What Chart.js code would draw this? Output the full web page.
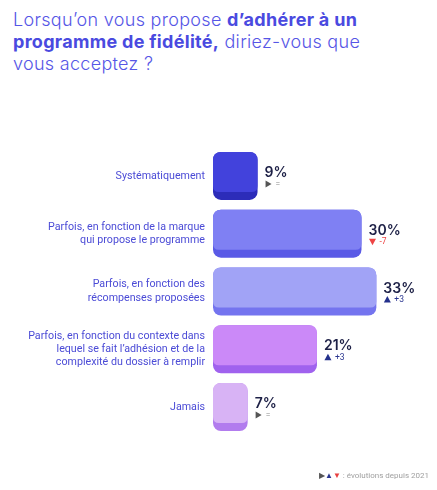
<!DOCTYPE html>
<html>
<head>
<meta charset="utf-8">
<script src="https://cdn.jsdelivr.net/npm/chart.js@4"></script>
<style>
  html, body { margin: 0; padding: 0; background: #fff; }
  #wrap { position: relative; width: 437px; height: 490px; }
  #title {
    position: absolute; left: 13px; top: 9px; margin: 0; width: 424px; white-space: nowrap;
    font-family: Inter, sans-serif; font-weight: 300; font-size: 18px;
    line-height: 22px; color: #5656e6; letter-spacing: 0.3px;
  }
  #title b { font-weight: 700; color: #4a4ae0; }
  #note {
    position: absolute; right: 8px; top: 471px;
    font-family: Roboto, sans-serif; font-size: 8px; color: #a0a0a0;
  }
  #note .f { color: #555; } #note .u { color: #2a3590; } #note .d { color: #e84040; }
  canvas { position: absolute; left: 0; top: 0; }
</style>
</head>
<body>
<div id="wrap">
  <h1 id="title">Lorsqu’on vous propose <b>d’adhérer à un</b><br><b>programme de fidélité,</b> diriez-vous que<br>vous acceptez ?</h1>
  <canvas id="myChart" width="437" height="490"></canvas>
  <div id="note"><span class="f">▶</span><span class="u">▲</span><span class="d">▼</span> : évolutions depuis 2021</div>
</div>
<script>
const categories = [
  ['Systématiquement'],
  ['Parfois, en fonction de la marque', 'qui propose le programme'],
  ['Parfois, en fonction des', 'récompenses proposées'],
  ['Parfois, en fonction du contexte dans', 'lequel se fait l’adhésion et de la', 'complexité du dossier à remplir'],
  ['Jamais']
]
const values = [9, 30, 33, 21, 7]
const changes = ['=', '-7', '+3', '+3', '=']
const trends = ['flat', 'down', 'up', 'up', 'flat']

const topColors = ['#4242dc', '#7f80f3', '#a1a3f6', '#cb89f8', '#d8b3f5']
const baseColors = ['#2c2cb9', '#5a5ae6', '#7474ef', '#a062ee', '#b27cee']
const trendColors = { flat: '#555555', down: '#ee4444', up: '#24318c' }
const changeColors = { flat: '#8a8a8a', down: '#ee4444', up: '#2a3590' }

function roundRect (ctx, x, y, w, h, rt, rb) {
  ctx.beginPath()
  ctx.moveTo(x + rt, y)
  ctx.lineTo(x + w - rt, y)
  ctx.quadraticCurveTo(x + w, y, x + w, y + rt)
  ctx.lineTo(x + w, y + h - rb)
  ctx.quadraticCurveTo(x + w, y + h, x + w - rb, y + h)
  ctx.lineTo(x + rb, y + h)
  ctx.quadraticCurveTo(x, y + h, x, y + h - rb)
  ctx.lineTo(x, y + rt)
  ctx.quadraticCurveTo(x, y, x + rt, y)
  ctx.closePath()
}

const barFacePlugin = {
  id: 'barFace',
  afterDatasetsDraw (chart) {
    const ctx = chart.ctx
    const meta = chart.getDatasetMeta(0)
    meta.data.forEach(function (bar, i) {
      const left = bar.base
      const right = bar.x
      const top = bar.y - bar.height / 2
      const h = bar.height - 8
      ctx.save()
      ctx.fillStyle = topColors[i]
      roundRect(ctx, left, top, right - left, h, 8, 6)
      ctx.fill()

      // value label
      const tx = right + 7
      ctx.fillStyle = '#1d2046'
      ctx.font = '600 14px Inter'
      ctx.textBaseline = 'alphabetic'
      ctx.textAlign = 'left'
      ctx.fillText(values[i] + '%', tx, bar.y + 1)

      // trend marker
      const cy = bar.y + 8
      const t = trends[i]
      ctx.fillStyle = trendColors[t]
      ctx.beginPath()
      if (t === 'flat') {
        ctx.moveTo(tx + 1, cy - 3.5); ctx.lineTo(tx + 7, cy); ctx.lineTo(tx + 1, cy + 3.5)
      } else if (t === 'up') {
        ctx.moveTo(tx + 0.5, cy + 3); ctx.lineTo(tx + 4, cy - 3.5); ctx.lineTo(tx + 7.5, cy + 3)
      } else {
        ctx.moveTo(tx + 0.5, cy - 3); ctx.lineTo(tx + 4, cy + 3.5); ctx.lineTo(tx + 7.5, cy - 3)
      }
      ctx.closePath()
      ctx.fill()
      ctx.fillStyle = changeColors[t]
      ctx.font = '8.5px Roboto'
      ctx.textBaseline = 'middle'
      ctx.fillText(changes[i], tx + 11, cy + 0.5)
      ctx.restore()
    })
  }
}

const ctx = document.getElementById('myChart').getContext('2d')
// eslint-disable-next-line no-unused-vars
const myChart = new Chart(ctx, {
  type: 'bar',
  data: {
    labels: categories,
    datasets: [{
      data: values,
      backgroundColor: baseColors,
      borderRadius: 8,
      borderSkipped: false,
      barPercentage: 1,
      categoryPercentage: 0.83
    }]
  },
  options: {
    indexAxis: 'y',
    responsive: false,
    animation: false,
    devicePixelRatio: 1,
    layout: { padding: { left: 0, right: 26, top: 147, bottom: 54 } },
    plugins: {
      legend: { display: false },
      tooltip: { enabled: false }
    },
    scales: {
      x: {
        display: false,
        min: 0,
        max: 40
      },
      y: {
        grid: { display: false, drawTicks: false },
        border: { display: false },
        afterFit: function (scale) { scale.width = 213 },
        ticks: {
          padding: 8,
          color: '#4b4bd6',
          font: { family: 'Roboto', size: 10.7, lineHeight: 1.25 }
        }
      }
    }
  },
  plugins: [barFacePlugin]
})
</script>
</body>
</html>
